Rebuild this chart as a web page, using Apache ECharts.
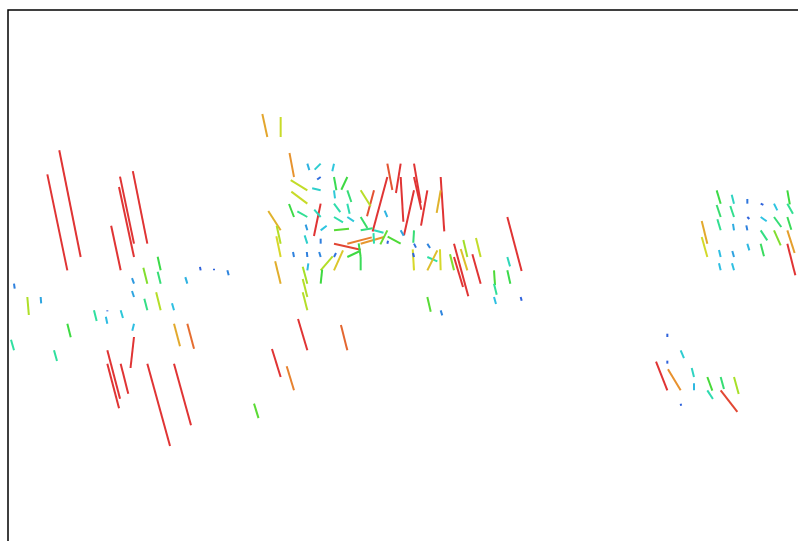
<!DOCTYPE html>
<html><head><meta charset="utf-8">
<script src="https://cdn.jsdelivr.net/npm/echarts@6/dist/echarts.min.js"></script>
<style>html,body{margin:0;padding:0;background:#fff}#c{width:798px;height:541px}</style>
</head><body><div id="c"></div>
<script>
// grid column / row index of each vector's origin
const cols = [5,4,9,9,10,8,11,10,11,14,15,16,13,0,9,1,2,9,10,11,12,6,7,7,8,9,4,12,13,0,3,9,7,7,8,10,12,
 19,20,21,22,23,24,23,22,23,24,25,24,25,22,21,22,23,23,24,25,24,25,23,22,24,20,20,20,22,23,24,25,26,21,22,23,24,25,24,22,23,20,22,22,22,23,22,20,21,18,25,
 28,29,29,30,30,31,28,27,30,32,32,26,28,26,26,27,29,26,26,27,28,28,29,30,30,31,30,30,31,31,32,31,32,33,33,34,34,35,35,33,36,36,36,37,37,37,38,
 53,54,55,56,57,58,53,54,55,56,57,58,58,52,53,54,55,56,57,58,58,52,55,56,53,54,53,54,49,50,49,49,50,51,51,52,53,54,52,53,50];
const rows = [19,20,18,19,18,20,20,21,21,20,20,20,21,21,21,22,22,22,23,23,23,23,23,24,23,24,24,24,24,26,26,25,26,27,27,27,27,
 10,10,13,12,12,12,13,14,14,13,13,14,14,15,16,16,15,16,15,15,16,16,17,17,17,17,18,19,18,18,18,18,18,19,19,19,19,19,20,20,20,21,21,22,23,21,26,28,29,30,26,
 12,12,13,12,13,14,13,14,14,13,14,14,16,16,17,17,17,19,20,18,17,18,18,17,18,18,20,19,19,20,20,22,23,18,19,20,19,19,21,20,20,21,22,19,20,16,22,
 15,15,15,15,15,14,16,16,16,16,16,15,16,18,17,17,17,17,17,17,18,19,18,18,19,19,20,20,25,26,27,29,29,28,29,28,28,28,29,29,30];
// east (u) and north (v) components
const uVals = [-21.4,-20,-14,-15,-14.5,-9.5,-3,-4,-3,-0.7,0,1.4,-2,0.7,-2,1.5,0.5,-2,-3,-4.5,-2,2.7,0,-1.5,2.3,-1.7,3.4,6,6.7,-3,3,-3.5,12.7,11.7,7.6,22.7,17,
 -5,0,-4.5,2,-6,-1.7,-3.5,-16.6,-8.5,2.4,-6,1,4,-16,-5,-10,-6.7,-6.4,6.3,2.3,9,6.6,6,-1.7,15,-12.4,-4,-4.3,-2.7,0,26.7,24.4,23.3,-1,-0.5,-1.5,2,12.7,9,1,12,-5.5,-4.6,-4.6,-4.6,1.5,-9.3,-8.7,-7.3,4.5,-6.4,
 5,-4.7,2.7,6.7,7.4,-6.3,-14.7,-7,-10,3.6,-4,10,-2.7,6.7,12,9.5,3,-2,0,-0.5,-7,0.7,-13,-0.7,2,2.7,-1.3,-1,10,10,-0.7,3.4,1.6,14.3,9,-6.6,-4,-4.7,-8.3,-4,1,2.7,2,2.7,3,14.3,1,
 -4,-2.3,0,2.7,3.3,2.5,-4,-3.7,2,6,7.3,5.6,4,-5.6,-3.3,-1,-1,6.6,6.7,7.3,8,-5.6,2,3.3,-1.7,-1.7,-1.7,-2,0,3.3,0,-11.3,-12.7,-2.3,0,5,3.3,4.7,5.6,16.7,0.5];
const vVals = [106.7,96,67,70,72.5,44.5,13.5,16,12,3.5,1.5,-5,6.5,-5,5.6,-18,-6.3,6,11.5,18,7,-10.7,-1,7,-7.6,-7,-13.6,-22.6,-25,10.6,-10.7,-31,-48.4,-44.6,-30,-82.3,-61.6,
 23,20,24,-6.5,-6,-7.5,-2.5,10.3,2,-13.3,-12.7,-8,-11.7,12,13,5.6,-32.4,7.3,-8.4,-10,-5.4,-4.4,4.6,5.7,1.7,19.3,18,20.7,8.3,5,-6,6.3,6.7,5,5,5,4,6,20,7,14,22.5,17,18,18,14,31.3,28,24,-14.5,25.3,
 -26.3,-29.3,-44.7,-39.3,-32.7,-35.3,-54.4,-26,-45,-54.4,-22.6,-16,6.3,-11,2,-2.5,-5.5,13.7,13.3,10.5,-14,3,7,-12.4,-4,-4.4,21,4,-4.4,20,21,-14.7,-5,-52.6,-30,21.3,17,19,29.4,16,-14.7,-11,-7,-9.4,-13.4,-54,-3.7,
 13.3,9,4.7,-1.3,-6.7,-14,12,11,-2,-4.3,-10,-10,-12.7,22.7,11,6.5,5,-10,-15,-22.7,-31.7,20,-6.7,-12.7,7,6,7,7,3.3,-7.7,3,28.7,21,9,7,-13.7,-12,-17,-8.6,-21.6,-2];

const PX_PER_CELL = 40 / 3; // pixel length of one grid step, vectors are given in pixels
const data = cols.map((c, i) => {
  const u = uVals[i], v = vVals[i];
  return [c, rows[i], u, v, Math.sqrt(u * u + v * v)];
});

const chart = echarts.init(document.getElementById('c'), null, {renderer: 'canvas'});
chart.setOption({
  animation: false,
  backgroundColor: '#ffffff',
  grid: {left: 8, top: 10, right: -10, bottom: -10, outerBoundsMode: 'none', containLabel: false,
         show: true, borderColor: '#000', borderWidth: 1.5, backgroundColor: 'transparent'},
  xAxis: {type: 'value', min: -0.45, max: 59.55, show: false},
  yAxis: {type: 'value', inverse: true, min: 0.475, max: 41.05, show: false},
  visualMap: {
    show: false, type: 'continuous', dimension: 4, min: 4, max: 28,
    inRange: {color: ['#2f63dc', '#2ec4e2', '#2fe0a6', '#3fd93a', '#a9e028', '#d8d82a', '#e8902e', '#e03434']}
  },
  series: [{
    type: 'custom',
    coordinateSystem: 'cartesian2d',
    data: data,
    encode: {x: 0, y: 1},
    renderItem: function (params, api) {
      const c = api.value(0), r = api.value(1), u = api.value(2), v = api.value(3);
      const p0 = api.coord([c, r]);
      const p1 = api.coord([c + u / PX_PER_CELL, r - v / PX_PER_CELL]);
      return {
        type: 'line',
        shape: {x1: p0[0], y1: p0[1], x2: p1[0], y2: p1[1]},
        style: {stroke: api.visual('color'), lineWidth: 2}
      };
    }
  }]
});
</script></body></html>
